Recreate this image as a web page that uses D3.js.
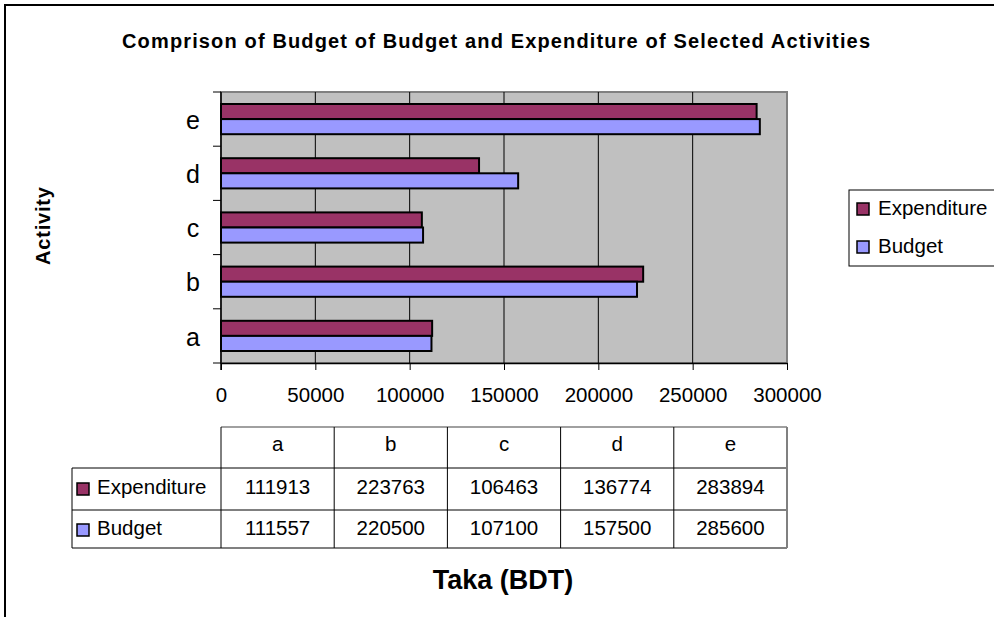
<!DOCTYPE html>
<html lang="en">
<head>
  <meta charset="utf-8"/>
  <title>Budget vs Expenditure</title>
  <script src="https://cdn.jsdelivr.net/npm/d3@7/dist/d3.min.js"></script>
  <style>
    html, body { margin:0; padding:0; background:#fff; overflow:hidden; }
    svg { display:block; font-family:"Liberation Sans", Arial, sans-serif; }
  </style>
</head>
<body>
  <svg width="994" height="617"></svg>
  <script>
  // data
  const categories  = ["a", "b", "c", "d", "e"];
  const seriesNames = ["Expenditure", "Budget"];
  const expenditure = [111913, 223763, 106463, 136774, 283894];
  const budget      = [111557, 220500, 107100, 157500, 285600];
  const xTicks      = [0, 50000, 100000, 150000, 200000, 250000, 300000];

  const colors = { Expenditure: "#993366", Budget: "#9999ff" };
  const values = { Expenditure: expenditure, Budget: budget };

  const svg = d3.select("svg");

  // outer frame (right/bottom edges fall outside the picture)
  svg.append("rect")
    .attr("x", 5).attr("y", 5).attr("width", 1100).attr("height", 700)
    .attr("fill", "#fff").attr("stroke", "#000").attr("stroke-width", 2);

  svg.append("text")
    .attr("x", 496).attr("y", 48)
    .attr("text-anchor", "middle")
    .attr("font-weight", "bold").attr("font-size", 20)
    .attr("textLength", 748).attr("lengthAdjust", "spacing")
    .text("Comprison of Budget of Budget and Expenditure of Selected Activities");

  // plot area
  const L = 221, R = 787, T = 92, B = 363;
  const x = d3.scaleLinear().domain([0, 300000]).range([L, R]);
  const y = d3.scaleBand().domain(categories.slice().reverse()).range([T, B]);
  const inner = d3.scaleBand().domain(seriesNames)
    .range([12, y.bandwidth() - 12]);

  svg.append("rect")
    .attr("x", L).attr("y", T).attr("width", R - L).attr("height", B - T)
    .attr("fill", "#c0c0c0").attr("stroke", "#808080").attr("stroke-width", 2);

  // gridlines
  svg.append("g").selectAll("line")
    .data(xTicks.slice(1, -1))
    .join("line")
      .attr("x1", d => x(d)).attr("x2", d => x(d))
      .attr("y1", T).attr("y2", B)
      .attr("stroke", "#000").attr("stroke-width", 1);

  // bars
  categories.forEach((c, i) => {
    seriesNames.forEach(s => {
      svg.append("rect")
        .attr("x", x(0))
        .attr("y", y(c) + inner(s))
        .attr("width", x(values[s][i]) - x(0))
        .attr("height", inner.bandwidth())
        .attr("fill", colors[s])
        .attr("stroke", "#000").attr("stroke-width", 2);
    });
  });

  // x axis
  const xAxis = svg.append("g")
    .attr("transform", `translate(0,${B})`)
    .call(d3.axisBottom(x).tickValues(xTicks).tickFormat(d3.format("d"))
      .tickSizeInner(7).tickSizeOuter(0).tickPadding(17));
  xAxis.select(".domain").attr("stroke", "#000").attr("stroke-width", 1.5);
  xAxis.selectAll("text").attr("font-size", 20.5).attr("fill", "#000")
    .attr("font-family", "Liberation Sans, Arial, sans-serif");

  // y axis: ticks sit on band edges
  const yEdges = d3.range(categories.length + 1).map(i => T + i * y.bandwidth());
  svg.append("g").selectAll("line")
    .data(yEdges)
    .join("line")
      .attr("x1", L - 8).attr("x2", L)
      .attr("y1", d => d).attr("y2", d => d)
      .attr("stroke", "#000");
  svg.append("line")
    .attr("x1", L).attr("x2", L).attr("y1", T).attr("y2", B + 7)
    .attr("stroke", "#000").attr("stroke-width", 1.5);
  svg.append("g").selectAll("text")
    .data(categories)
    .join("text")
      .attr("x", 193)
      .attr("y", d => y(d) + y.bandwidth() / 2 + 3)
      .attr("text-anchor", "middle").attr("dominant-baseline", "middle")
      .attr("font-size", 25)
      .text(d => d);

  svg.append("text")
    .attr("transform", "translate(50,226) rotate(-90)")
    .attr("text-anchor", "middle")
    .attr("font-weight", "bold").attr("font-size", 20)
    .attr("textLength", 78).attr("lengthAdjust", "spacing")
    .text("Activity");

  // legend
  const lg = svg.append("g");
  lg.append("rect")
    .attr("x", 849).attr("y", 190).attr("width", 200).attr("height", 76)
    .attr("fill", "#fff").attr("stroke", "#000");
  [{ s: "Expenditure", cy: 209 }, { s: "Budget", cy: 247 }].forEach(d => {
    lg.append("rect")
      .attr("x", 857).attr("y", d.cy - 6).attr("width", 12).attr("height", 12)
      .attr("fill", colors[d.s]).attr("stroke", "#000").attr("stroke-width", 1.5);
    lg.append("text")
      .attr("x", 878).attr("y", d.cy + 1).attr("dominant-baseline", "middle")
      .attr("font-size", 20.5)
      .text(d.s);
  });

  // data table
  const colW = (R - L) / categories.length;
  const tTop = 427, r1 = 468, r2 = 510, tBot = 548, tLeft = 72;
  const tg = svg.append("g");
  const ln = (x1, y1, x2, y2, c, w) => tg.append("line")
    .attr("x1", x1).attr("y1", y1).attr("x2", x2).attr("y2", y2)
    .attr("stroke", c).attr("stroke-width", w);

  ln(L, tTop, R, tTop, "#808080", 1.5);
  ln(tLeft, r1, R, r1, "#000", 1);
  ln(tLeft, r2, R, r2, "#000", 1);
  ln(tLeft, tBot, R, tBot, "#808080", 2);
  ln(tLeft, r1, tLeft, tBot, "#000", 1);
  categories.forEach((c, i) => ln(L + i * colW, tTop, L + i * colW, tBot, "#000", 1));
  ln(R, tTop, R, tBot, "#808080", 2);

  categories.forEach((c, i) => {
    const cx = L + (i + 0.5) * colW;
    tg.append("text").attr("x", cx).attr("y", 446)
      .attr("text-anchor", "middle").attr("dominant-baseline", "middle")
      .attr("font-size", 20.5).text(c);
    seriesNames.forEach((s, j) => {
      tg.append("text").attr("x", cx).attr("y", j === 0 ? 489 : 530)
        .attr("text-anchor", "middle").attr("dominant-baseline", "middle")
        .attr("font-size", 20.5).text(values[s][i]);
    });
  });
  seriesNames.forEach((s, j) => {
    const cy = j === 0 ? 489 : 530;
    tg.append("rect")
      .attr("x", 77).attr("y", cy - 6).attr("width", 12).attr("height", 12)
      .attr("fill", colors[s]).attr("stroke", "#000").attr("stroke-width", 1.5);
    tg.append("text").attr("x", 97).attr("y", cy)
      .attr("dominant-baseline", "middle")
      .attr("font-size", 20.5).text(s);
  });

  svg.append("text")
    .attr("x", 503).attr("y", 589)
    .attr("text-anchor", "middle")
    .attr("font-weight", "bold").attr("font-size", 27)
    .text("Taka (BDT)");
  </script>
</body>
</html>
